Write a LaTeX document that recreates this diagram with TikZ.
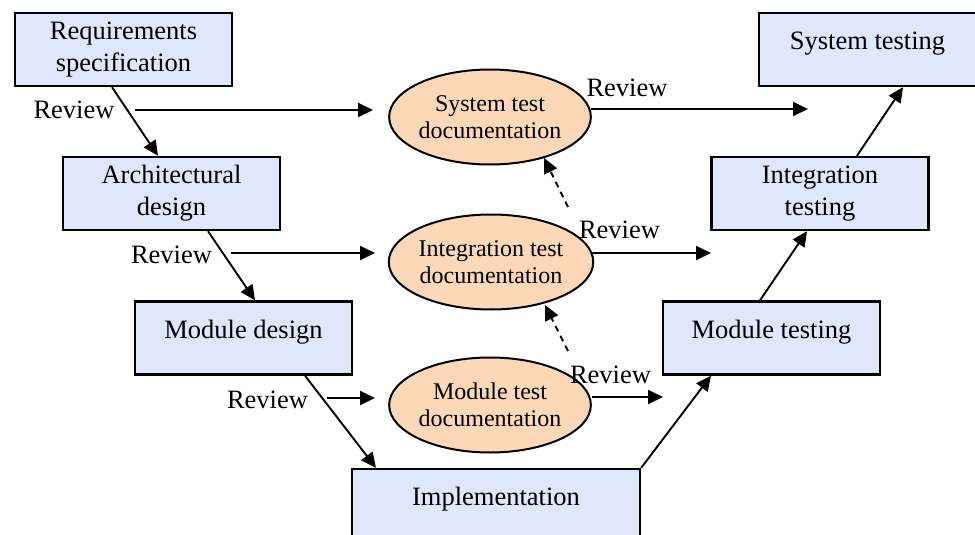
\documentclass[tikz,border=0pt]{standalone}
\usepackage{fontspec}
\setmainfont{Liberation Serif}
\usetikzlibrary{arrows.meta,shapes.geometric}

\definecolor{phasefill}{RGB}{221,232,252}
\definecolor{docfill}{RGB}{252,216,184}

\tikzset{
  phase/.style={draw=black, fill=phasefill, line width=2.4pt, rectangle,
    minimum width=217pt, minimum height=73pt, inner sep=0pt, align=center,
    font=\fontsize{26.5}{32}\selectfont},
  oneline/.style={text height=18pt, text depth=18pt},
  testdoc/.style={draw=black, fill=docfill, line width=2pt, ellipse,
    minimum width=181pt, minimum height=95pt, inner sep=0pt, align=center,
    font=\fontsize{24}{27}\selectfont},
  flow/.style={line width=1.9pt, -{Triangle[length=15pt,width=14pt]}},
  trace/.style={flow, dash pattern=on 6pt off 5pt},
  reviewtxt/.style={anchor=base, inner sep=0pt, font=\fontsize{26.5}{32}\selectfont}
}

\begin{document}
\begin{tikzpicture}[x=1pt, y=-1pt]
  \useasboundingbox (0,0) rectangle (975,535);
  \clip (0,0) rectangle (975,535);

  % development phases (left leg)
  \node[phase] (req)  at (123.5,49.5) {Requirements\\specification};
  \node[phase] (arch) at (171.5,193.5) {Architectural\\design};
  \node[phase, oneline] (modd) at (243.5,338) {Module design};
  \node[phase, oneline, minimum width=288pt] (impl) at (496,505.5) {Implementation};

  % testing phases (right leg)
  \node[phase, oneline] (modt) at (771.5,338) {Module testing};
  \node[phase] (intt) at (820,193.5) {Integration\\testing};
  \node[phase, oneline] (syst) at (867.5,49.5) {System testing};

  % test documentation
  \node[testdoc] (sysdoc) at (490,117) {System test\\documentation};
  \node[testdoc] (intdoc) at (491,262) {Integration test\\documentation};
  \node[testdoc] (moddoc) at (490,405) {Module test\\documentation};

  % V-model flow
  \draw[flow] ([xshift=-11.5pt]req.south)  -- ([xshift=-13.5pt]arch.north);
  \draw[flow] ([xshift=36.5pt]arch.south)  -- ([xshift=11.5pt]modd.north);
  \draw[flow] ([xshift=61.5pt]modd.south)  -- ([xshift=-120pt]impl.north);
  \draw[flow] (impl.north east)            -- ([xshift=-60.5pt]modt.south);
  \draw[flow] ([xshift=-11.5pt]modt.north) -- ([xshift=-13pt]intt.south);
  \draw[flow] ([xshift=37pt]intt.north)    -- ([xshift=35.5pt]syst.south);

  % review arrows
  \coordinate (r1a) at (135,110);  \coordinate (r1b) at (373,110);
  \coordinate (r1c) at (591,109);  \coordinate (r1d) at (808,109);
  \coordinate (r2a) at (231,253);  \coordinate (r2b) at (375,253);
  \coordinate (r2c) at (591,253);  \coordinate (r2d) at (711,253);
  \coordinate (r3a) at (327,398);  \coordinate (r3b) at (375,398);
  \coordinate (r3c) at (592,397);  \coordinate (r3d) at (663,397);
  \draw[flow] (r1a) -- (r1b);
  \draw[flow] (r1c) -- (r1d);
  \draw[flow] (r2a) -- (r2b);
  \draw[flow] (r2c) -- (r2d);
  \draw[flow] (r3a) -- (r3b);
  \draw[flow] (r3c) -- (r3d);

  \node[reviewtxt] (rv1) at (74,118)    {Review};
  \node[reviewtxt] (rv2) at (627,96)    {Review};
  \node[reviewtxt] (rv3) at (171.5,263) {Review};
  \node[reviewtxt] (rv4) at (619.5,238) {Review};
  \node[reviewtxt] (rv5) at (267.5,408) {Review};
  \node[reviewtxt] (rv6) at (610.5,383) {Review};

  % traceability between test documents
  \coordinate (t1) at (568,207);
  \coordinate (t1e) at (544,158);
  \coordinate (t2) at (568,351);
  \coordinate (t2e) at (545,305);
  \draw[trace] (t1) -- (t1e);
  \draw[trace] (t2) -- (t2e);
\end{tikzpicture}
\end{document}
